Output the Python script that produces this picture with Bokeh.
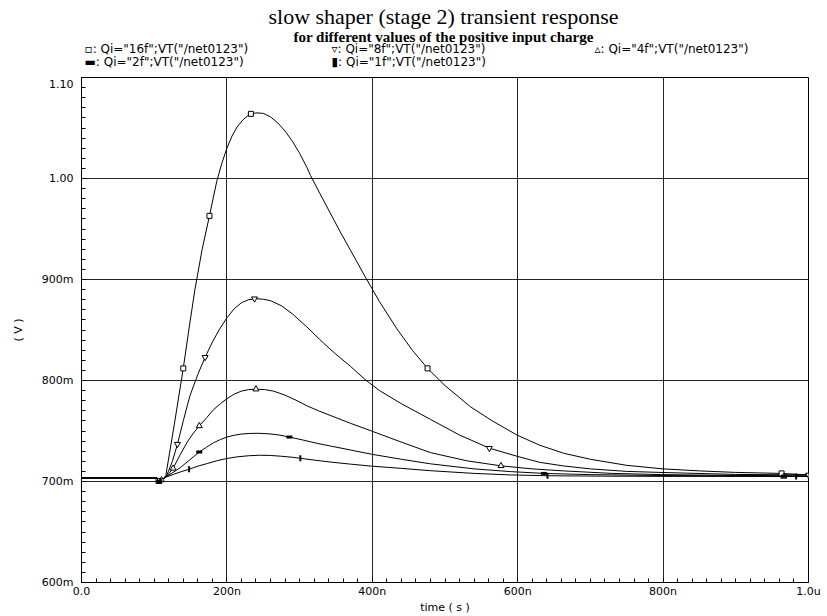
from bokeh.plotting import figure
from bokeh.layouts import column
from bokeh.models import Range1d, FixedTicker, CustomJSTickFormatter
from bokeh.core.properties import value
from bokeh.embed import file_html
from bokeh.resources import INLINE

# ---- data (time in ns, voltage in V) ----
t_16f = [0, 104, 108, 113, 116, 128, 140, 148, 156, 166, 176, 186, 193, 200, 207, 214, 222, 230, 240, 250, 260, 270, 280, 290, 300, 310, 315, 328, 342, 356, 370, 390, 410, 434, 455, 476, 500, 535, 565, 599, 630, 663, 700, 750, 800, 850, 900, 963, 1000]
v_16f = [0.7035, 0.7035, 0.7005, 0.7030, 0.7060, 0.758, 0.812, 0.852, 0.890, 0.930, 0.963, 0.997, 1.015, 1.030, 1.042, 1.051, 1.058, 1.063, 1.065, 1.0645, 1.061, 1.055, 1.047, 1.037, 1.025, 1.011, 1.003, 0.985, 0.966, 0.947, 0.929, 0.903, 0.878, 0.851, 0.830, 0.812, 0.795, 0.774, 0.760, 0.746, 0.736, 0.728, 0.722, 0.716, 0.7125, 0.7105, 0.709, 0.708, 0.7065]

t_8f = [0, 104, 108, 113, 117, 125, 132, 140, 149, 160, 170, 180, 190, 200, 210, 220, 230, 240, 250, 260, 275, 290, 310, 333, 350, 370, 390, 410, 440, 480, 520, 561, 599, 630, 663, 700, 750, 800, 900, 1000]
v_8f = [0.7035, 0.7035, 0.7005, 0.7030, 0.7055, 0.720, 0.737, 0.760, 0.7845, 0.806, 0.823, 0.838, 0.851, 0.862, 0.871, 0.877, 0.880, 0.881, 0.8805, 0.879, 0.874, 0.866, 0.853, 0.837, 0.826, 0.814, 0.801, 0.790, 0.777, 0.7615, 0.746, 0.733, 0.725, 0.719, 0.7154, 0.7125, 0.710, 0.7089, 0.707, 0.7065]

t_4f = [0, 104, 108, 113, 117, 126, 135, 145, 153, 162, 172, 182, 191, 200, 210, 220, 230, 240, 252, 264, 280, 295, 310, 326, 342, 370, 399, 440, 480, 530, 577, 620, 663, 730, 800, 900, 1000]
v_4f = [0.7035, 0.7035, 0.7005, 0.7030, 0.705, 0.713, 0.7255, 0.7385, 0.747, 0.755, 0.763, 0.7714, 0.777, 0.782, 0.7865, 0.7895, 0.791, 0.7914, 0.791, 0.7895, 0.7855, 0.7805, 0.775, 0.770, 0.7655, 0.7576, 0.750, 0.739, 0.7286, 0.7205, 0.7155, 0.7125, 0.7105, 0.708, 0.7068, 0.706, 0.7055]

t_2f = [0, 104, 108, 113, 117, 126, 136, 149, 162, 172, 182, 191, 200, 210, 220, 232, 244, 258, 272, 286, 305, 324, 342, 370, 399, 440, 480, 540, 590, 636, 700, 800, 900, 1000]
v_2f = [0.7035, 0.7035, 0.7005, 0.7030, 0.705, 0.709, 0.7138, 0.7215, 0.7292, 0.734, 0.7385, 0.7415, 0.744, 0.7458, 0.747, 0.7476, 0.7477, 0.7472, 0.746, 0.744, 0.741, 0.7378, 0.7352, 0.7312, 0.727, 0.722, 0.7175, 0.7125, 0.7098, 0.708, 0.7068, 0.7059, 0.7055, 0.7052]

t_1f = [0, 104, 108, 113, 117, 127, 137, 148, 160, 173, 186, 200, 215, 230, 245, 260, 275, 290, 301, 320, 342, 370, 399, 440, 480, 540, 590, 641, 720, 800, 1000]
v_1f = [0.7035, 0.7035, 0.7005, 0.7030, 0.7045, 0.7072, 0.7097, 0.7121, 0.7152, 0.7178, 0.7205, 0.7228, 0.7245, 0.7255, 0.726, 0.7258, 0.725, 0.724, 0.7230, 0.7212, 0.7193, 0.7172, 0.7152, 0.713, 0.7107, 0.708, 0.7065, 0.7057, 0.7053, 0.7051, 0.705]

# marker positions along each curve
mt_16f = [106, 140, 176, 233, 476, 963]
mv_16f = [0.7005, 0.812, 0.963, 1.064, 0.812, 0.708]
mt_8f = [108, 132, 170, 238, 561, 1000]
mv_8f = [0.7010, 0.737, 0.823, 0.881, 0.733, 0.7065]
mt_4f = [110, 126, 162, 240, 577, 966]
mv_4f = [0.7015, 0.713, 0.755, 0.7914, 0.7155, 0.7050]
mt_2f = [107, 162, 286, 636, 966]
mv_2f = [0.7000, 0.7292, 0.744, 0.708, 0.7052]
mt_1f = [109, 148, 301, 641, 983]
mv_1f = [0.7005, 0.7121, 0.7230, 0.7057, 0.7050]

x_ticks = [0, 200, 400, 600, 800, 1000]
x_tick_labels = ["0.0", "200n", "400n", "600n", "800n", "1.0u"]
y_ticks = [0.6, 0.7, 0.8, 0.9, 1.0, 1.1]
y_tick_labels = ["600m", "700m", "800m", "900m", "1.00", "1.10"]

legend_texts = [
    '\u25ab: Qi="16f";VT("/net0123")',
    '\u25bf: Qi="8f";VT("/net0123")',
    '\u25b5: Qi="4f";VT("/net0123")',
    '\u25ac: Qi="2f";VT("/net0123")',
    '\u25ae: Qi="1f";VT("/net0123")',
]
title_text = "slow shaper (stage 2) transient response"
subtitle_text = "for different values of the positive input charge"

HEADER_H = 77
FRAME_L, FRAME_R = 81, 808   # frame edges in page pixels (column aligns frames)

# ---- header (title, subtitle, legend) drawn in page-pixel coordinates ----
h = figure(width=827, height=HEADER_H, x_range=Range1d(FRAME_L, FRAME_R), y_range=Range1d(HEADER_H, 0),
           output_backend="svg", toolbar_location=None,
           min_border_left=FRAME_L, min_border_right=827 - FRAME_R, min_border_top=0, min_border_bottom=0)
h.title.visible = False
h.axis.visible = False
h.grid.visible = False
h.outline_line_color = None
h.background_fill_color = "white"
h.border_fill_color = "white"

h.text(x=[443], y=[16], text=[title_text], text_align="center", text_baseline="middle",
       text_font=value("Liberation Serif"), text_font_size="22px", text_color="black")
h.text(x=[443], y=[36], text=[subtitle_text], text_align="center", text_baseline="middle",
       text_font=value("Liberation Serif"), text_font_size="15px", text_font_style="bold",
       text_color="black")
legend_x = [84, 331, 594, 84, 331]
legend_y = [48, 48, 48, 61, 61]
h.text(x=legend_x, y=legend_y, text=legend_texts, text_align="left", text_baseline="middle",
       text_font=value("DejaVu Sans"), text_font_size="12px", text_color="black")

# ---- main plot ----
p = figure(width=827, height=616 - HEADER_H, x_range=Range1d(0, 1000), y_range=Range1d(0.6, 1.1),
           output_backend="svg", toolbar_location=None,
           min_border_left=FRAME_L, min_border_right=827 - FRAME_R, min_border_top=0, min_border_bottom=33)
p.title.visible = False
p.outline_line_color = "black"
p.outline_line_width = 1
p.background_fill_color = "white"
p.border_fill_color = "white"

p.xaxis.ticker = FixedTicker(ticks=x_ticks, minor_ticks=list(range(0, 1001, 20)))
p.yaxis.ticker = FixedTicker(ticks=y_ticks, minor_ticks=[round(0.6 + 0.01 * i, 2) for i in range(51)])
fmt_code = ("var i = tvals.findIndex(function(t){return Math.abs(t - tick) < 1e-6;});"
            "return i >= 0 ? tlabels[i] : '';")
p.xaxis.formatter = CustomJSTickFormatter(args=dict(tvals=x_ticks, tlabels=x_tick_labels), code=fmt_code)
p.yaxis.formatter = CustomJSTickFormatter(args=dict(tvals=y_ticks, tlabels=y_tick_labels), code=fmt_code)

for ax in (p.xaxis[0], p.yaxis[0]):
    ax.axis_line_color = "black"
    ax.major_tick_in = 5
    ax.major_tick_out = 0
    ax.minor_tick_in = 4
    ax.minor_tick_out = 0
    ax.major_tick_line_color = "black"
    ax.minor_tick_line_color = "black"
    ax.major_label_text_font = "DejaVu Sans"
    ax.major_label_text_font_size = "11px"
    ax.major_label_text_color = "black"
    ax.axis_label_text_font = "DejaVu Sans"
    ax.axis_label_text_font_size = "11px"
    ax.axis_label_text_font_style = "normal"
    ax.axis_label_text_color = "black"

p.xaxis.axis_label = "time ( s )"
p.xaxis.major_label_standoff = 2
p.xaxis.axis_label_standoff = 0
p.yaxis.axis_label = "( V )"
p.yaxis.major_label_standoff = 8
p.yaxis.axis_label_standoff = 14

p.grid.grid_line_color = "black"
p.grid.grid_line_width = 1
p.grid.grid_line_alpha = 0.85

for t, v in ((t_16f, v_16f), (t_8f, v_8f), (t_4f, v_4f), (t_2f, v_2f), (t_1f, v_1f)):
    p.line(t, v, line_color="black", line_width=1)

p.scatter(mt_16f, mv_16f, marker="square", size=5, fill_color="white", line_color="black", line_width=1)
p.scatter(mt_8f, mv_8f, marker="inverted_triangle", size=6, fill_color="white", line_color="black", line_width=1)
p.scatter(mt_4f, mv_4f, marker="triangle", size=6, fill_color="white", line_color="black", line_width=1)
p.scatter(mt_2f, mv_2f, marker="dash", size=6, line_color="black", line_width=3)
p.scatter(mt_1f, mv_1f, marker="dash", size=6, angle=1.5708, line_color="black", line_width=2)

layout = column(h, p, spacing=0)
open("out.html", "w").write(file_html(layout, INLINE))
